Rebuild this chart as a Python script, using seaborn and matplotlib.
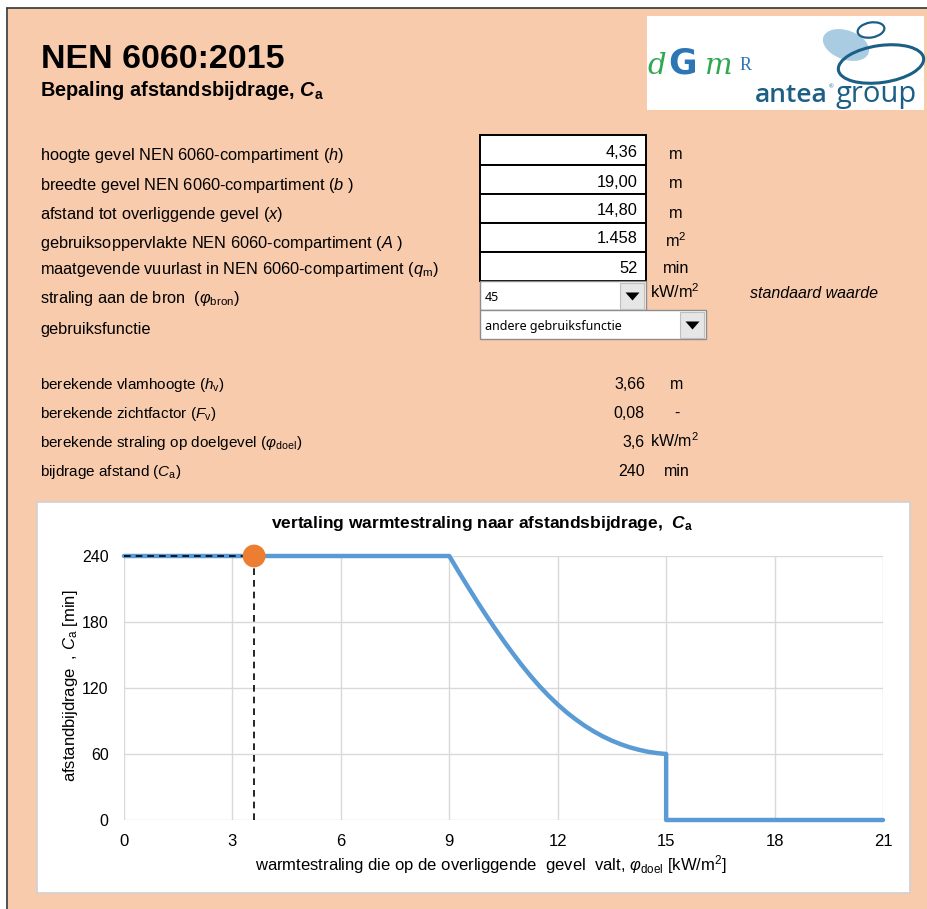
import matplotlib
matplotlib.use("Agg")
import matplotlib.pyplot as plt
import seaborn as sns
from matplotlib.patches import Rectangle, Ellipse, Polygon
from matplotlib.lines import Line2D
from matplotlib.transforms import Affine2D
from matplotlib import font_manager as fm

# ---------------- data ----------------
phi_doel = [0, 9, 9.25, 9.5, 9.75, 10, 10.25, 10.5, 10.75, 11, 11.25, 11.5, 11.75, 12,
            12.25, 12.5, 12.75, 13, 13.25, 13.5, 13.75, 14, 14.25, 14.5, 14.75, 15, 15, 21]
ca_curve = [240, 240, 226.2, 212.8, 199.7, 187, 174.8, 163, 151.8, 141, 130.9, 121.5, 112.9, 105,
            97.8, 91.4, 85.6, 80.5, 76, 72.1, 68.8, 66, 63.8, 62, 60.8, 60, 0, 0]
point_phi = [3.6]
point_ca = [240]
x_ticks = [0, 3, 6, 9, 12, 15, 18, 21]
y_ticks = [0, 60, 120, 180, 240]

input_labels = [
    r"hoogte gevel NEN 6060-compartiment ($\mathit{h}$)",
    r"breedte gevel NEN 6060-compartiment ($\mathit{b}$ )",
    r"afstand tot overliggende gevel ($\mathit{x}$)",
    r"gebruiksoppervlakte NEN 6060-compartiment ($\mathit{A}$ )",
    r"maatgevende vuurlast in NEN 6060-compartiment ($\mathit{q}_{\mathrm{m}}$)",
    r"straling aan de bron  ($\mathit{φ}_{\mathrm{bron}}$)",
    r"gebruiksfunctie",
]
input_values = ["4,36", "19,00", "14,80", "1.458", "52"]
input_units = ["m", "m", "m", r"m$^2$", "min"]
dropdown_values = ["45", "andere gebruiksfunctie"]

result_labels = [
    r"berekende vlamhoogte ($\mathit{h}_{\mathrm{v}}$)",
    r"berekende zichtfactor ($\mathit{F}_{\mathrm{v}}$)",
    r"berekende straling op doelgevel ($\mathit{φ}_{\mathrm{doel}}$)",
    r"bijdrage afstand ($\mathit{C}_{\mathrm{a}}$)",
]
result_values = ["3,66", "0,08", "3,6", "240"]
result_units = ["m", "-", r"kW/m$^2$", "min"]

# ---------------- style ----------------
sns.set_theme(style="white")


def has_font(name):
    try:
        fm.findfont(fm.FontProperties(family=name), fallback_to_default=False)
        return True
    except Exception:
        return False


NARROW = "Liberation Sans Narrow" if has_font("Liberation Sans Narrow") else "Liberation Sans"
plt.rcParams["font.family"] = ["Liberation Sans", "DejaVu Sans"]
plt.rcParams["mathtext.fontset"] = "custom"
plt.rcParams["mathtext.rm"] = "Liberation Sans"
plt.rcParams["mathtext.it"] = "Liberation Sans:italic"
plt.rcParams["mathtext.bf"] = "Liberation Sans:bold"
plt.rcParams["mathtext.bfit"] = "Liberation Sans:italic:bold"

W, H = 928, 909
fig = plt.figure(figsize=(W / 100, H / 100), dpi=100)
fig.patch.set_facecolor("white")
T = Affine2D().scale(1 / W, -1 / H).translate(0, 1) + fig.transFigure


def rect(x0, y0, x1, y1, z=-5, **kw):
    fig.add_artist(Rectangle((x0, y0), x1 - x0, y1 - y0, transform=T, zorder=z, **kw))


def txt(x, y, s, **kw):
    kw.setdefault("va", "baseline")
    kw.setdefault("fontsize", 11)
    kw.setdefault("color", "black")
    fig.text(x, y, s, transform=T, **kw)


SALMON = "#F8CBAD"
rect(8, 8, W + 5, H + 5, z=-10, facecolor=SALMON, edgecolor="none")
fig.add_artist(Line2D([7.5, W], [7.5, 7.5], transform=T, color="#333333", lw=1.2, zorder=-4))
fig.add_artist(Line2D([7.5, 7.5], [7.5, H], transform=T, color="#333333", lw=1.2, zorder=-4))

# Header
txt(41, 68, "NEN 6060:2015", fontsize=24.5, fontweight="bold")
txt(40, 96, r"Bepaling afstandsbijdrage, $\mathbfit{C}_{\mathbf{a}}$", fontsize=14.3, fontweight="bold")

# Logo
rect(647, 16, 924, 110, z=-5, facecolor="white", edgecolor="none")
GREEN, BLUE, TEAL = "#2FA84F", "#2E75B6", "#1B5E86"
txt(647, 74, "d", fontsize=21, color=GREEN, family="DejaVu Serif", style="italic")
txt(668, 74, "G", fontsize=25, color=BLUE, family="DejaVu Sans", fontweight="bold")
txt(705, 74, "m", fontsize=21, color=GREEN, family="DejaVu Serif", style="italic")
txt(740, 70, "R", fontsize=13, color=BLUE, family="Liberation Serif")
fig.add_artist(Ellipse((846, 45), 48, 29, angle=20, transform=T, facecolor="#A9CCE3",
                       edgecolor="none", zorder=-3))
fig.add_artist(Ellipse((881, 64), 86, 37, angle=-8, transform=T, facecolor="none",
                       edgecolor=TEAL, lw=2.2, zorder=-2))
fig.add_artist(Ellipse((871, 30), 27, 15, angle=-10, transform=T, facecolor="none",
                       edgecolor=TEAL, lw=1.6, zorder=-2))
txt(755, 102, "antea", fontsize=19, color=TEAL, family="Open Sans", fontweight="semibold")
txt(836, 102, "group", fontsize=21, color=TEAL, family="Open Sans")
txt(828.5, 88, "®", fontsize=4.5, color=TEAL)

# Input section
label_baselines = [160, 190, 219, 248, 274, 303, 334]
for lab, yb in zip(input_labels, label_baselines):
    txt(40, yb, lab, fontsize=11.8)

box_edges = [135, 164.5, 193.5, 222.5, 251.5, 280.5]
value_baselines = [157, 187, 215, 243, 273]
unit_baselines = [159, 188, 218, 247, 273]
for i, (v, u) in enumerate(zip(input_values, input_units)):
    rect(480, box_edges[i], 646, box_edges[i + 1], z=-4, facecolor="white", edgecolor="black", lw=1.4)
    txt(638, value_baselines[i], v, ha="right", fontsize=11.8)
    txt(676, unit_baselines[i], u, ha="center", fontsize=11.8)

# dropdowns
dd = [(480, 281, 646, 310), (480, 310, 706, 339)]
for (x0, y0, x1, y1), val, tb in zip(dd, dropdown_values, [301, 330]):
    rect(x0, y0, x1, y1, z=-4, facecolor="white", edgecolor="#8C8C8C", lw=1.0)
    rect(x1 - 26, y0 + 1.5, x1 - 1.5, y1 - 1.5, z=-3, facecolor="#E6E6E6", edgecolor="#BFBFBF", lw=0.8)
    cx, cy = x1 - 13.5, (y0 + y1) / 2 + 1
    fig.add_artist(Polygon([(cx - 7, cy - 4), (cx + 7, cy - 4), (cx, cy + 4)], closed=True,
                           transform=T, facecolor="black", edgecolor="none", zorder=-2))
    txt(x0 + 5, tb, val, fontsize=9, family="Noto Sans")
txt(650, 298, r"kW/m$^2$", fontsize=11.8)
txt(750, 298, "standaard waarde", fontsize=11.5, style="italic")

# Results section
res_baselines = [389, 418, 447, 476]
for lab, v, u, yb in zip(result_labels, result_values, result_units, res_baselines):
    txt(40, yb, lab, fontsize=11, family=NARROW)
    txt(645, yb, v, ha="right", fontsize=11.5, family=NARROW)
    if u.startswith("kW"):
        txt(650, yb, u, fontsize=11.5, family=NARROW)
    else:
        txt(677, yb, u, ha="center", fontsize=11.5, family=NARROW)

# Chart box
rect(37, 502, 910, 893, z=-4, facecolor="white", edgecolor="#D0D0D0", lw=1.2)

ax = fig.add_axes([124 / W, 1 - 820 / H, 759 / W, 264 / H])
ax.set_zorder(5)
ax.set_facecolor("none")
sns.lineplot(x=phi_doel, y=ca_curve, sort=False, estimator=None, color="#5B9BD5",
             lw=3.2, ax=ax, clip_on=False, zorder=3)
ax.hlines(point_ca, 0, point_phi, colors="black", linestyles=(0, (4, 3)), lw=1.2,
          zorder=4, clip_on=False)
ax.vlines(point_phi, 0, point_ca, colors="black", linestyles=(0, (4, 3)), lw=1.2,
          zorder=4, clip_on=False)
sns.scatterplot(x=point_phi, y=point_ca, s=270, color="#ED7D31", edgecolor="none",
                ax=ax, zorder=5, clip_on=False)
ax.set_xlim(0, 21)
ax.set_ylim(0, 240)
ax.set_xticks(x_ticks)
ax.set_yticks(y_ticks)
ax.set_xticklabels([str(t) for t in x_ticks], family=NARROW, fontsize=12)
ax.set_yticklabels([str(t) for t in y_ticks], fontsize=11.5)
ax.tick_params(axis="both", length=0, colors="black")
ax.tick_params(axis="x", pad=10)
ax.tick_params(axis="y", pad=11)
ax.grid(True, color="#D9D9D9", lw=1.0)
for s in ax.spines.values():
    s.set_visible(False)
ax.set_xlabel("")
ax.set_ylabel("")

txt(482, 528, r"vertaling warmtestraling naar afstandsbijdrage,  $\mathbfit{C}_{\mathbf{a}}$",
    ha="center", fontsize=12.5, fontweight="bold", family=NARROW)
txt(71, 686, r"afstandbijdrage  , $\mathit{C}_{\mathrm{a}}$ [min]", ha="center", va="center",
    rotation=90, fontsize=12, family=NARROW)
txt(491, 870, r"warmtestraling die op de overliggende  gevel  valt, $\mathit{φ}_{\mathrm{doel}}$ [kW/m$^2$]",
    ha="center", fontsize=12, family=NARROW)

fig.savefig("out.png", dpi=100, facecolor=fig.get_facecolor())
